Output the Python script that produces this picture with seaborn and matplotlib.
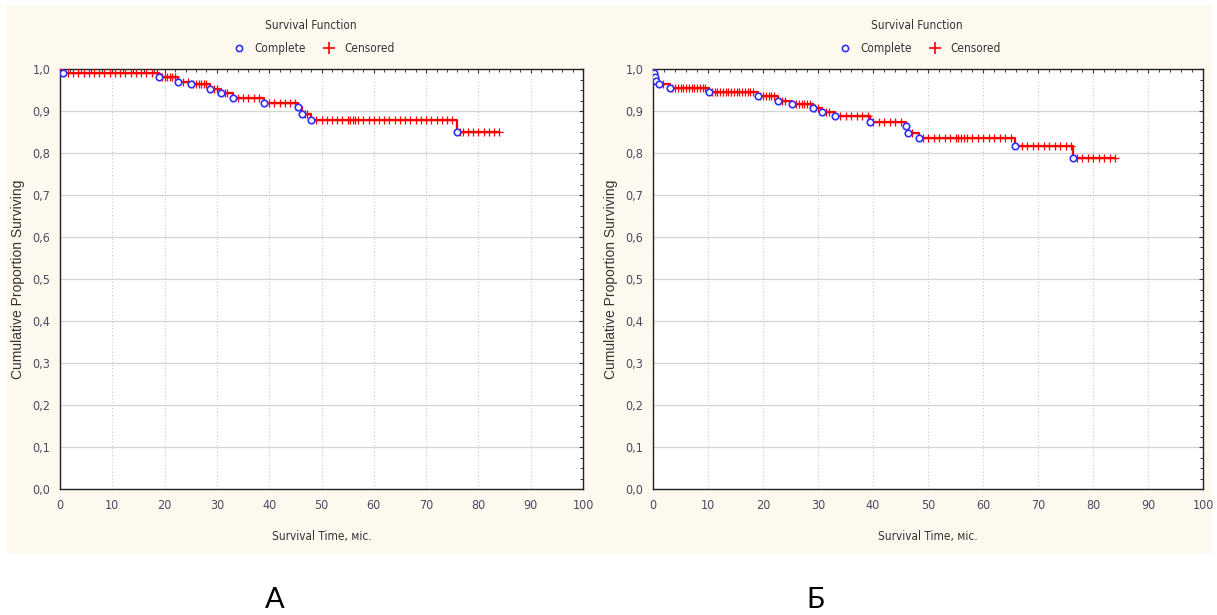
import numpy as np
import pandas as pd
import matplotlib
matplotlib.use("Agg")
import matplotlib.pyplot as plt
import seaborn as sns
from matplotlib.patches import Rectangle
from matplotlib.lines import Line2D
from matplotlib.ticker import MultipleLocator, FuncFormatter

#### Data
# Panel A: event times (months) and survival after each event
a_event_t = [0.5, 19, 22.6, 25, 28.7, 30.7, 33, 39, 45.6, 46.2, 47.9, 76]
a_event_s = [0.99, 0.98, 0.97, 0.964, 0.952, 0.943, 0.931, 0.92, 0.909, 0.893, 0.878, 0.85]
a_censored = [1.5, 2.5, 3.5, 4.5, 5.5, 6.5, 7.5, 8.5, 9.5, 10.5, 11.5, 12.5, 13.5,
              14.5, 15.5, 16.5, 17.5, 18.5, 19.5, 20, 20.5, 21, 21.5, 22, 23.5, 24.5,
              25.5, 26, 26.5, 27, 27.5, 28, 29.5, 30, 31.5, 32, 34, 35, 36, 37, 38,
              40, 41, 42, 43, 44, 45, 46.8, 47.3, 49, 50, 51, 52, 53, 54, 55, 55.5,
              56, 56.5, 57, 58, 59, 60, 61, 62, 63, 64, 65, 66, 67, 68, 69, 70, 71,
              72, 73, 74, 75, 76.5, 77, 78, 79, 80, 81, 82, 83, 84]

# Panel Б
b_event_t = [0.2, 0.4, 0.6, 1, 3, 10.2, 19, 22.8, 25.2, 29, 30.8, 33, 39.4, 46, 46.3,
             48.3, 65.9, 76.3]
b_event_s = [0.99, 0.98, 0.972, 0.964, 0.955, 0.945, 0.936, 0.924, 0.917, 0.907,
             0.897, 0.888, 0.874, 0.865, 0.848, 0.836, 0.817, 0.788]
b_censored = [1.8, 3.5, 4, 4.5, 5, 5.5, 6, 6.5, 7, 7.5, 8, 8.5, 9, 9.5, 10.7, 11.2,
              11.7, 12.2, 12.7, 13.2, 13.7, 14.2, 14.7, 15.2, 15.7, 16.2, 16.7, 17.2,
              17.7, 18.2, 19.5, 20, 20.5, 21, 21.5, 22, 23.5, 24, 26, 26.5, 27, 27.5,
              28, 28.5, 29.5, 30, 31.5, 32, 34, 35, 36, 37, 38, 39, 40, 41, 42, 43,
              44, 45, 47, 49, 50, 51, 52, 53, 54, 55, 55.5, 56, 56.5, 57, 58, 59, 60,
              61, 62, 63, 64, 65, 67, 68, 69, 70, 71, 72, 73, 74, 75, 76, 77, 78, 79,
              80, 81, 82, 83, 84]

panel_letters = ["А", "Б"]
title = "Survival Function"
xlabel = "Survival Time, міс."
ylabel = "Cumulative Proportion Surviving"

sns.set_style("white")
plt.rcParams['font.family'] = ['DejaVu Sans']
plt.rcParams['font.stretch'] = 'condensed'

tick_col = "#4a4a62"
text_col = "#333333"


def surv_at(t, ev_t, ev_s):
    idx = np.searchsorted(ev_t, t, side="right") - 1
    return np.where(idx >= 0, np.array(ev_s)[np.clip(idx, 0, None)], 1.0)


def draw_panel(ax, ev_t, ev_s, cens):
    end = max(cens)
    curve = pd.DataFrame({"t": [0] + ev_t + [end], "s": [1.0] + ev_s + [ev_s[-1]]})
    sns.lineplot(data=curve, x="t", y="s", ax=ax, drawstyle="steps-post",
                 color="red", lw=1.6, estimator=None, zorder=3)
    cdf = pd.DataFrame({"t": cens, "s": surv_at(np.array(cens), ev_t, ev_s)})
    ax.scatter(cdf.t, cdf.s, marker="+", color="red", s=40, lw=0.9, zorder=4)
    edf = pd.DataFrame({"t": ev_t, "s": ev_s})
    ax.scatter(edf.t, edf.s, marker="o", facecolor="white", edgecolor="#3030ff",
               s=22, lw=1.2, zorder=5)

    ax.set_facecolor("white")
    ax.set_xlim(0, 100)
    ax.set_ylim(0, 1.0)
    ax.xaxis.set_major_locator(MultipleLocator(10))
    ax.xaxis.set_minor_locator(MultipleLocator(2))
    ax.yaxis.set_major_locator(MultipleLocator(0.1))
    ax.yaxis.set_minor_locator(MultipleLocator(0.025))
    ax.yaxis.set_major_formatter(FuncFormatter(lambda v, p: f"{v:.1f}".replace(".", ",")))
    ax.tick_params(which="both", direction="in", top=True, right=True,
                   labelsize=9, labelcolor=tick_col, color="#333333")
    ax.tick_params(which="major", length=3, width=0.8, pad=7)
    ax.tick_params(which="minor", length=2, width=0.7)
    ax.grid(axis="y", which="major", color="#d4d4d4", lw=0.9, ls="-")
    ax.grid(axis="x", which="major", color="#c8c8c8", lw=0.8, ls=(0, (1, 2)))
    ax.set_axisbelow(True)
    for sp in ax.spines.values():
        sp.set_visible(True)
        sp.set_color("#222222")
        sp.set_linewidth(1.0)
    ax.set_xlabel(xlabel, fontsize=8.5, color=text_col, labelpad=13)
    ax.set_ylabel(ylabel, fontsize=10, color=text_col, labelpad=5,
                  family=["Liberation Sans", "DejaVu Sans"], fontstretch="normal")

    handles = [Line2D([], [], ls="none", marker="o", mfc="white", mec="#3030ff",
                      ms=4.5, mew=1.2, label="Complete"),
               Line2D([], [], ls="none", marker="+", color="red", ms=8, mew=1.2,
                      label="Censored")]
    ax.legend(handles=handles, loc="lower center", bbox_to_anchor=(0.48, 1.022),
              ncol=2, frameon=False, fontsize=8.5, handletextpad=0.3,
              columnspacing=1.0, borderaxespad=0, labelcolor=text_col)
    ax.text(0.48, 1.088, title, transform=ax.transAxes, ha="center", va="bottom",
            fontsize=8.5, color=text_col)


fig = plt.figure(figsize=(12.17, 6.15), dpi=100)
fig.patch.set_facecolor("white")
bg = Rectangle((6 / 1217, 1 - 553 / 615), 1206 / 1217, 548 / 615,
               transform=fig.transFigure, facecolor="#fef9ee",
               edgecolor="none", zorder=-10)
fig.add_artist(bg)

ax_a = fig.add_axes([60 / 1217, 1 - 489 / 615, 523 / 1217, 420 / 615])
ax_b = fig.add_axes([653 / 1217, 1 - 489 / 615, 550 / 1217, 420 / 615])
draw_panel(ax_a, a_event_t, a_event_s, a_censored)
draw_panel(ax_b, b_event_t, b_event_s, b_censored)

fig.text(275 / 1217, 1 - 600 / 615, panel_letters[0], ha="center", va="center",
         fontsize=21, family=["Lato", "DejaVu Sans"], fontstretch="normal", color="black")
fig.text(815 / 1217, 1 - 600 / 615, panel_letters[1], ha="center", va="center",
         fontsize=21, family=["Lato", "DejaVu Sans"], fontstretch="normal", color="black")

fig.savefig("out.png", dpi=100)
